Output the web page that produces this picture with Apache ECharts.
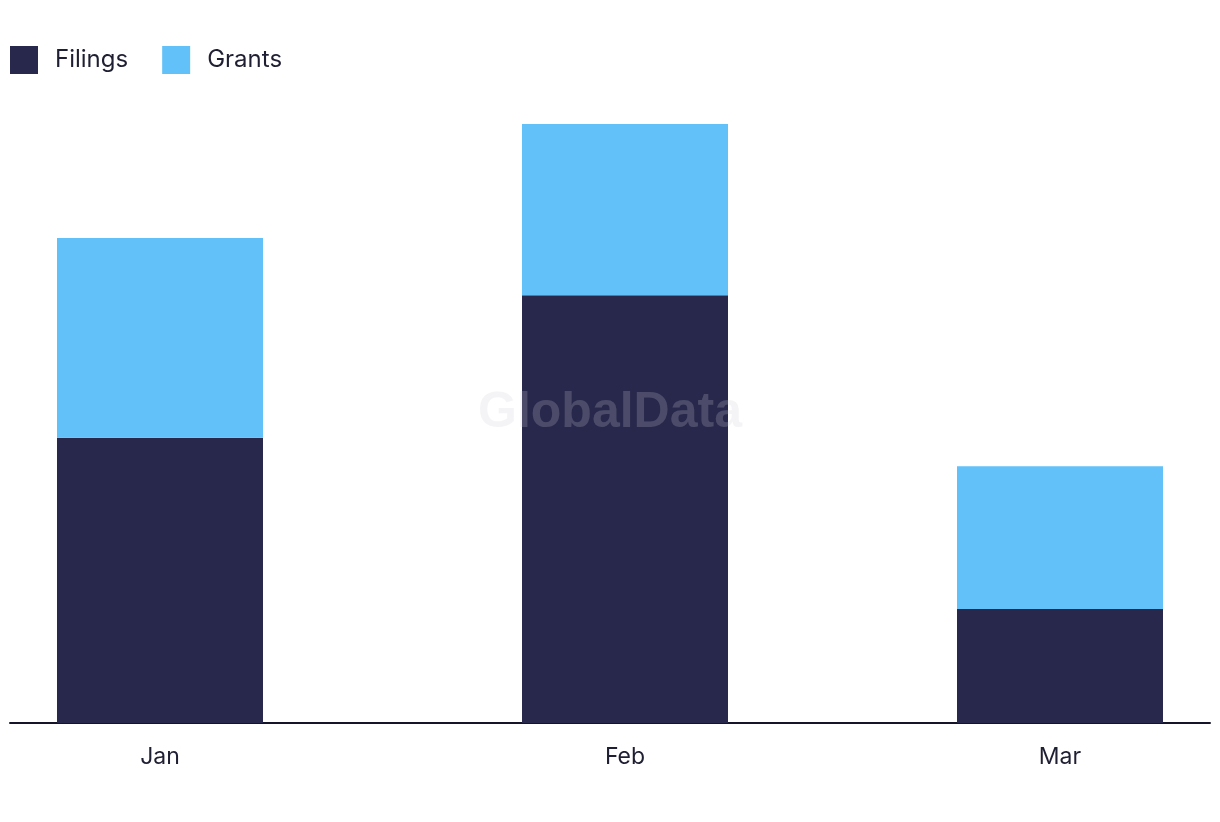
<!DOCTYPE html>
<html>
<head>
<meta charset="utf-8">
<title>Filings and Grants</title>
<script src="https://cdn.jsdelivr.net/npm/echarts@6/dist/echarts.min.js"></script>
<style>
  html, body {
    margin: 0;
    padding: 0;
    background: #fff;
  }
  #chart {
    width: 1220px;
    height: 822px;
  }
</style>
</head>
<body>
<div id="chart"></div>
<script>
// months shown on the x axis, and the date each bar sits on
const months = ["Jan", "Feb", "Mar"];
const monthDates = ["2024-01-01", "2024-02-01", "2024-03-01"];

// stacked values
const filings = [10, 15, 4];
const grants = [7, 6, 5];

const DAY = 24 * 3600 * 1000;
const dateValues = monthDates.map(d => +echarts.time.parse(d));

// echarts widens a time axis that carries px-wide bars, so start a bit
// inside the wanted range (10 days each side once widened)
const axisPad = 3.1333 * DAY;

const textColor = "#1f1f33";
const fontFamily = "Inter, 'Noto Sans', sans-serif";

const chart = echarts.init(document.getElementById("chart"));

chart.setOption({
  animation: false,
  backgroundColor: "#fff",
  textStyle: {
    fontFamily: fontFamily
  },
  legend: {
    left: 10,
    top: 46,
    padding: 0,
    itemWidth: 28,
    itemHeight: 28,
    itemGap: 34,
    icon: "rect",
    textStyle: {
      color: textColor,
      fontSize: 24,
      fontFamily: fontFamily,
      padding: [0, 0, 0, 12]
    },
    data: ["Filings", "Grants"]
  },
  grid: {
    left: 10,
    right: 10,
    top: 124,
    bottom: 99
  },
  xAxis: {
    type: "time",
    min: dateValues[0] - axisPad,
    max: dateValues[dateValues.length - 1] + axisPad,
    splitLine: { show: false },
    axisTick: { show: false },
    axisLine: {
      lineStyle: {
        color: "#14142a",
        width: 2
      }
    },
    axisLabel: {
      color: textColor,
      fontSize: 23,
      fontFamily: fontFamily,
      margin: 23,
      hideOverlap: false,
      showMinLabel: false,
      showMaxLabel: false,
      formatter: function(value) {
        const idx = dateValues.indexOf(+value);
        return idx >= 0 ? months[idx] : "";
      }
    }
  },
  yAxis: {
    type: "value",
    show: false,
    min: 0,
    max: 21,
    splitLine: { show: false }
  },
  graphic: [
    {
      type: "text",
      x: 610,
      y: 413,
      z: 100,
      silent: true,
      style: {
        text: "GlobalData",
        font: "bold 50px 'Liberation Sans', Arial, sans-serif",
        fill: "rgba(205,205,215,0.22)",
        textAlign: "center",
        textVerticalAlign: "middle"
      }
    }
  ],
  series: [
    {
      name: "Filings",
      type: "bar",
      stack: "total",
      barWidth: 206,
      itemStyle: { color: "#28284c" },
      data: monthDates.map((d, i) => [d, filings[i]])
    },
    {
      name: "Grants",
      type: "bar",
      stack: "total",
      barWidth: 206,
      itemStyle: { color: "#62c1f8" },
      data: monthDates.map((d, i) => [d, grants[i]])
    }
  ]
});
</script>
</body>
</html>
